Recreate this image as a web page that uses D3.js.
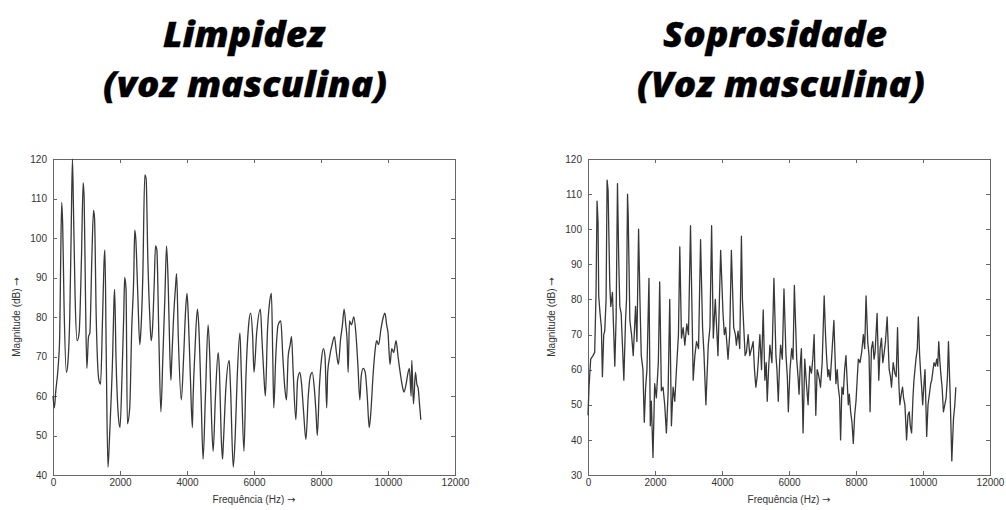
<!DOCTYPE html>
<meta charset="utf-8">
<style>

body {
  margin: 0;
  background: #fff;
}

.title {
  font-family: "Open Sans", Lato, sans-serif;
  font-weight: 800;
  font-style: italic;
  font-size: 36px;
  fill: #000;
  stroke: #000;
  stroke-width: 0.3;
  text-anchor: middle;
}

.axis text {
  font: 10px "Liberation Sans", Arial, sans-serif;
  fill: #333;
}

.axis path,
.axis line {
  stroke: #666;
  shape-rendering: crispEdges;
}

.label {
  font: 10px "Liberation Sans", Arial, sans-serif;
  fill: #333;
  text-anchor: middle;
}

.label tspan.arrow {
  font-family: "DejaVu Sans", sans-serif;
}

.line {
  fill: none;
  stroke: #383838;
  stroke-width: 1.3;
  stroke-linejoin: round;
}

</style>
<body>
<script src="https://cdn.jsdelivr.net/npm/d3@7"></script>
<script>

// Limpidez (voz masculina)
var limFreq = [0, 40, 80, 150, 200, 230, 260, 290, 330, 400, 440, 500, 540, 580, 610, 660, 720, 780,
  850, 900, 930, 970, 1010, 1060, 1100, 1160, 1210, 1240, 1290, 1370, 1420, 1480, 1530, 1550, 1590,
  1640, 1680, 1710, 1780, 1820, 1840, 1880, 1950, 2000, 2060, 2110, 2140, 2180, 2220, 2290, 2350,
  2410, 2440, 2470, 2530, 2590, 2620, 2680, 2740, 2780, 2830, 2890, 2930, 2970, 3020, 3060, 3100,
  3160, 3220, 3280, 3340, 3390, 3440, 3490, 3520, 3540, 3600, 3660, 3690, 3740, 3830, 3900, 3960,
  4000, 4040, 4100, 4160, 4180, 4240, 4310, 4350, 4420, 4480, 4550, 4630, 4680, 4730, 4780, 4850,
  4930, 4970, 5020, 5060, 5080, 5160, 5260, 5300, 5380, 5440, 5500, 5580, 5620, 5700, 5760, 5840,
  5900, 5960, 6000, 6080, 6190, 6240, 6290, 6340, 6400, 6470, 6520, 6560, 6590, 6650, 6720, 6800,
  6860, 6920, 6970, 7020, 7080, 7120, 7170, 7250, 7300, 7370, 7420, 7480, 7550, 7620, 7680, 7740,
  7800, 7850, 7890, 7950, 8010, 8070, 8120, 8170, 8200, 8260, 8330, 8400, 8460, 8520, 8580, 8640,
  8690, 8740, 8780, 8810, 8850, 8910, 8980, 9040, 9100, 9160, 9200, 9260, 9320, 9380, 9440, 9480,
  9560, 9620, 9660, 9720, 9790, 9860, 9910, 9960, 10000, 10060, 10110, 10170, 10240, 10300, 10380,
  10440, 10480, 10540, 10600, 10640, 10690, 10710, 10760, 10820, 10860, 10900, 10940, 10980];
var limMag = [60, 57, 61, 67, 75, 95, 109, 103, 83, 66, 68, 80, 100, 120, 108, 85, 74, 76,
  95, 114, 110, 85, 67, 75, 76, 95, 107, 105, 80, 64, 63, 80, 95, 97, 70,
  42, 48, 54, 70, 84, 87, 70, 55, 52, 65, 80, 90, 87, 53, 57, 77,
  90, 102, 100, 86, 73, 76, 90, 116, 115, 95, 80, 74, 77, 88, 98, 97,
  75, 56, 70, 85, 98, 88, 70, 64, 68, 80, 88, 91, 75, 59, 70, 82,
  86, 80, 65, 52, 59, 72, 82, 78, 60, 44, 60, 78, 70, 55, 46, 60,
  71, 66, 50, 44, 47, 62, 69, 62, 42, 50, 65, 76, 66, 46, 65, 78,
  81, 75, 66, 76, 82, 74, 66, 60, 76, 84, 86, 70, 57, 70, 78, 79,
  70, 62, 59, 70, 73, 75, 66, 54, 64, 66, 63, 56, 49, 60, 65, 66,
  62, 56, 50, 62, 69, 72, 70, 57, 66, 70, 73, 75, 71, 68, 74, 78,
  82, 78, 74, 66, 79, 78, 80, 76, 68, 59, 65, 67, 66, 60, 52, 55,
  66, 72, 74, 73, 77, 80, 81, 78, 76, 68, 72, 71, 74, 70, 65,
  62, 61, 63, 66, 67, 60, 69, 58, 66, 63, 62, 58, 54];

// Soprosidade (Voz masculina)
var sopFreq = [0, 30, 80, 150, 200, 240, 270, 300, 320, 360, 400, 430, 470, 500, 540, 570, 600,
  650, 680, 730, 770, 800, 840, 880, 920, 950, 990, 1020, 1070, 1120, 1150, 1180, 1200, 1250, 1300,
  1350, 1390, 1420, 1460, 1510, 1550, 1590, 1640, 1680, 1720, 1760, 1820, 1860, 1890, 1940, 1990,
  2040, 2100, 2140, 2190, 2240, 2290, 2340, 2390, 2440, 2490, 2540, 2590, 2640, 2700, 2740, 2790,
  2840, 2890, 2950, 3000, 3060, 3110, 3140, 3190, 3240, 3300, 3360, 3420, 3460, 3520, 3590, 3640,
  3690, 3740, 3800, 3840, 3880, 3960, 4030, 4070, 4110, 4180, 4230, 4280, 4350, 4400, 4430, 4480,
  4530, 4580, 4610, 4650, 4690, 4730, 4780, 4830, 4880, 4930, 4970, 5010, 5050, 5080, 5130, 5180,
  5230, 5280, 5320, 5350, 5390, 5430, 5490, 5550, 5610, 5640, 5680, 5720, 5750, 5800, 5850, 5910,
  5950, 5980, 6030, 6080, 6120, 6160, 6230, 6270, 6300, 6340, 6370, 6420, 6470, 6520, 6570, 6620,
  6670, 6710, 6750, 6800, 6840, 6870, 6910, 6940, 6990, 7050, 7090, 7120, 7160, 7190, 7230, 7270,
  7340, 7400, 7440, 7470, 7510, 7540, 7580, 7620, 7660, 7700, 7740, 7770, 7800, 7840, 7880, 7920,
  7960, 8000, 8040, 8070, 8120, 8170, 8220, 8260, 8300, 8350, 8390, 8420, 8460, 8500, 8540, 8570,
  8630, 8680, 8720, 8760, 8800, 8830, 8880, 8930, 8990, 9030, 9060, 9110, 9160, 9200, 9240, 9280,
  9310, 9350, 9390, 9420, 9460, 9510, 9550, 9590, 9620, 9660, 9700, 9730, 9790, 9830, 9860, 9900,
  9930, 9960, 9990, 10030, 10060, 10110, 10150, 10190, 10230, 10260, 10300, 10330, 10370, 10410,
  10440, 10470, 10500, 10530, 10570, 10610, 10650, 10690, 10730, 10760, 10810, 10860, 10910, 10950,
  10980];
var sopMag = [47, 55, 63, 64, 65, 82, 108, 102, 81, 76, 72, 58, 70, 71, 80, 114, 111,
  84, 78, 82, 70, 61, 75, 113, 90, 78, 76, 69, 57, 74, 80, 110, 104, 74, 70,
  64, 72, 78, 68, 100, 80, 64, 60, 45, 55, 60, 86, 44, 51, 35, 56,
  52, 62, 85, 54, 55, 50, 42, 53, 80, 44, 55, 51, 60, 70, 95, 69,
  72, 67, 73, 70, 101, 74, 57, 64, 68, 66, 97, 72, 65, 50, 67, 72,
  101, 69, 80, 72, 64, 94, 76, 70, 72, 63, 70, 94, 72, 70, 67, 71,
  66, 98, 80, 72, 64, 65, 70, 64, 66, 68, 60, 55, 58, 62, 70, 60,
  77, 57, 62, 51, 60, 67, 62, 86, 64, 60, 51, 62, 67, 63, 83, 64,
  58, 48, 60, 66, 63, 84, 63, 58, 53, 62, 66, 42, 63, 56, 50, 61,
  59, 63, 70, 47, 60, 59, 57, 55, 62, 81, 70, 64, 58, 60, 57, 63,
  74, 56, 60, 55, 52, 40, 55, 53, 60, 64, 56, 50, 53, 48, 45, 39,
  47, 51, 58, 63, 62, 65, 70, 66, 81, 68, 64, 48, 66, 68, 63, 65,
  76, 57, 66, 69, 62, 64, 68, 75, 60, 58, 55, 62, 59, 58, 72, 56,
  50, 53, 55, 52, 50, 40, 47, 48, 44, 42, 52, 57, 63, 66, 75, 64,
  59, 55, 50, 56, 60, 41, 50, 53, 56, 57, 60, 62, 61, 63,
  61, 68, 63, 59, 55, 48, 50, 52, 58, 68, 53, 34, 46, 50,
  55];

var xTicks = [0, 2000, 4000, 6000, 8000, 10000, 12000];
var limYTicks = [40, 50, 60, 70, 80, 90, 100, 110, 120];
var sopYTicks = [30, 40, 50, 60, 70, 80, 90, 100, 110, 120];

var svg = d3.select("body").append("svg")
    .attr("width", 1006)
    .attr("height", 510);

function panel(opt) {
  var x = d3.scaleLinear().domain([0, 12000]).range([opt.left, opt.right]);
  var y = d3.scaleLinear().domain(opt.yDomain).range([475, 159]);

  var g = svg.append("g");

  g.append("text").attr("class", "title")
      .attr("x", opt.titleX[0]).attr("y", 47)
      .attr("textLength", opt.titleW[0]).attr("lengthAdjust", "spacingAndGlyphs")
      .text(opt.title[0]);
  g.append("text").attr("class", "title")
      .attr("x", opt.titleX[1]).attr("y", 97)
      .attr("textLength", opt.titleW[1]).attr("lengthAdjust", "spacingAndGlyphs")
      .text(opt.title[1]);

  g.append("g").attr("class", "axis")
      .attr("transform", "translate(0,475)")
      .call(d3.axisBottom(x).tickValues(xTicks).tickSize(-4).tickPadding(4).tickFormat(d3.format("d")));
  g.append("g").attr("class", "axis")
      .attr("transform", "translate(0,159)")
      .call(d3.axisTop(x).tickValues(xTicks).tickSize(-4).tickFormat(""));
  g.append("g").attr("class", "axis")
      .attr("transform", "translate(" + opt.left + ",0)")
      .call(d3.axisLeft(y).tickValues(opt.yTicks).tickSize(-4).tickPadding(6));
  g.append("g").attr("class", "axis")
      .attr("transform", "translate(" + opt.right + ",0)")
      .call(d3.axisRight(y).tickValues(opt.yTicks).tickSize(-4).tickFormat(""));

  var line = d3.line()
      .curve(opt.curve)
      .x(function(d) { return x(d[0]); })
      .y(function(d) { return y(d[1]); });

  g.append("path").attr("class", "line")
      .datum(d3.zip(opt.freq, opt.mag))
      .attr("d", line);

  var xl = g.append("text").attr("class", "label")
      .attr("x", (opt.left + opt.right) / 2).attr("y", 503);
  xl.append("tspan").text("Frequência (Hz) ");
  xl.append("tspan").attr("class", "arrow").text("→");

  var yl = g.append("text").attr("class", "label")
      .attr("transform", "translate(" + (opt.left - 33) + ",317)rotate(-90)");
  yl.append("tspan").text("Magnitude (dB) ");
  yl.append("tspan").attr("class", "arrow").text("→");
}

panel({
  left: 53, right: 455, yDomain: [40, 120], yTicks: limYTicks,
  freq: limFreq, mag: limMag, curve: d3.curveMonotoneX,
  title: ["Limpidez", "(voz masculina)"], titleX: [244, 245], titleW: [162, 284]
});

panel({
  left: 588, right: 990, yDomain: [30, 120], yTicks: sopYTicks,
  freq: sopFreq, mag: sopMag, curve: d3.curveLinear,
  title: ["Soprosidade", "(Voz masculina)"], titleX: [775, 781], titleW: [224, 288]
});

</script>
